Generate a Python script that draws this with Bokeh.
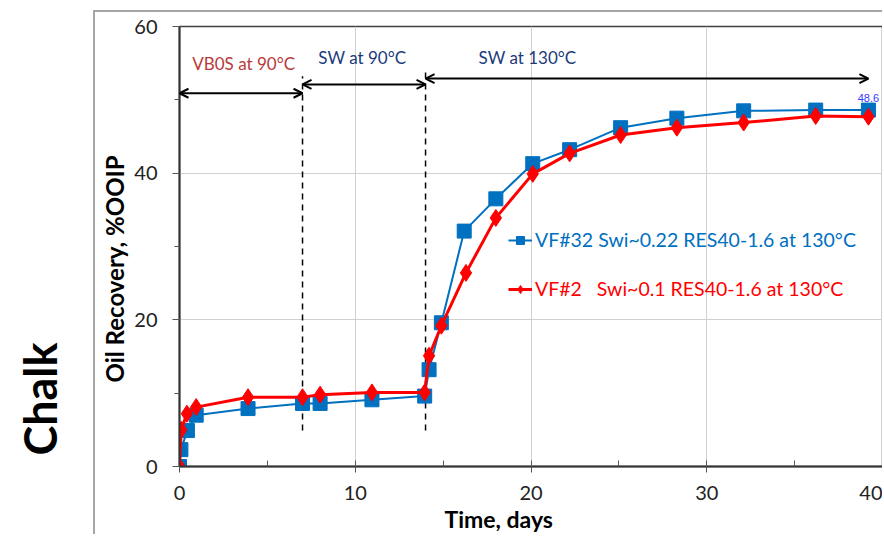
import math
from bokeh.plotting import figure
from bokeh.layouts import row
from bokeh.models import (Range1d, SingleIntervalTicker, Label, Arrow, OpenHead,
                          Legend, LegendItem, Title, Div)
from bokeh.embed import file_html
from bokeh.resources import INLINE

# ---- data ----
blue_name = "VF#32 Swi~0.22 RES40-1.6 at 130°C"
blue_t = [0, 0.08, 0.45, 0.95, 3.9, 7.0, 8.0, 10.95, 13.95, 14.2, 14.9, 16.2, 18.0,
          20.1, 22.2, 25.1, 28.3, 32.1, 36.2, 39.2]
blue_v = [0, 2.3, 4.9, 7.0, 7.9, 8.6, 8.6, 9.1, 9.6, 13.2, 19.6, 32.1, 36.5,
          41.3, 43.2, 46.2, 47.5, 48.5, 48.6, 48.6]

red_name = "VF#2   Swi~0.1 RES40-1.6 at 130°C"
red_t = [0, 0.1, 0.42, 0.95, 3.9, 7.0, 8.0, 10.95, 13.95, 14.2, 14.9, 16.3, 18.0,
         20.1, 22.2, 25.1, 28.3, 32.1, 36.2, 39.2]
red_v = [0, 5.0, 7.2, 8.1, 9.45, 9.45, 9.8, 10.1, 10.1, 15.1, 19.2, 26.4, 33.9,
         39.9, 42.7, 45.2, 46.2, 46.9, 47.8, 47.7]

phase_names = ["VB0S at 90°C", "SW at 90°C", "SW at 130°C"]
phase_start = [0, 7, 14]
phase_end = [7, 14, 39.2]
phase_arrow_y = [50.9, 52.1, 52.9]
phase_text_x = [3.65, 10.4, 19.8]
phase_text_y = [55.0, 55.8, 55.8]
phase_colors = ["#B83A3A", "#203A7A", "#203A7A"]
divider_t = [7, 14]
divider_bottom = [4.9, 4.9]
divider_top = [53.2, 54.3]

x_ticks_interval = 10
y_ticks_interval = 20
last_label = "48.6"
side_title = "Chalk"
x_title = "Time, days"
y_title = "Oil Recovery, %OOIP"

BLUE = "#0070C0"
RED = "#FF0000"
FONT = "Lato"
GRAY_BORDER = "2px solid #A6A6A6"

# ---- left strip with the rotated "Chalk" title ----
side = Div(text=('<div style="position:absolute; left:40px; top:399px; '
                 'transform:translate(-50%,-50%) rotate(-90deg); '
                 'font-family:Lato; font-weight:bold; font-size:45px; '
                 'line-height:1; color:black; white-space:nowrap;">'
                 + side_title + '</div>'),
           width=93, height=536, margin=0)

# ---- main chart ----
p = figure(width=789, height=524, output_backend="svg", toolbar_location=None,
           x_range=Range1d(0, 40), y_range=Range1d(0, 60),
           min_border_left=84, min_border_right=2, min_border_top=14,
           min_border_bottom=70)
p.margin = (10, 0, 0, 0)
p.styles = {"border-left": GRAY_BORDER, "border-top": GRAY_BORDER}
p.background_fill_color = "white"
p.border_fill_color = "white"
p.outline_line_color = "#404040"
p.outline_line_width = 1.5

p.xaxis.ticker = SingleIntervalTicker(interval=x_ticks_interval, num_minor_ticks=2)
p.yaxis.ticker = SingleIntervalTicker(interval=y_ticks_interval, num_minor_ticks=2)
for ax in (p.xaxis, p.yaxis):
    ax.axis_line_color = "#333333"
    ax.axis_line_width = 2
    ax.major_tick_line_color = "#555555"
    ax.minor_tick_line_color = "#555555"
    ax.major_label_text_font = FONT
    ax.major_label_text_font_size = "20px"
    ax.major_label_text_color = "#222222"
p.xaxis.major_tick_out = 6
p.xaxis.major_tick_in = 0
p.xaxis.minor_tick_in = 6
p.xaxis.minor_tick_out = 0
p.xaxis.major_label_standoff = 13
p.yaxis.major_tick_out = 7
p.yaxis.major_tick_in = 0
p.yaxis.minor_tick_in = 0
p.yaxis.minor_tick_out = 5
p.yaxis.major_label_standoff = 15
p.xgrid.grid_line_color = "#D0D0D0"
p.ygrid.grid_line_color = "#D0D0D0"

# axis titles (side titles, positioned along the axis with align/offset)
p.add_layout(Title(text=y_title, align="left", offset=84, standoff=5,
                   text_font=FONT, text_font_size="24px", text_font_style="bold",
                   text_color="black"), "left")
p.add_layout(Title(text=x_title, align="left", offset=265, standoff=0,
                   text_font=FONT, text_font_size="23px", text_font_style="bold",
                   text_color="black"), "below")

# phase dividers
p.segment(x0=divider_t, y0=divider_bottom, x1=divider_t, y1=divider_top,
          line_color="black", line_width=1.5, line_dash="6 5")

# phase arrows and labels
for s, e, ay, name, tx, ty, c in zip(phase_start, phase_end, phase_arrow_y,
                                      phase_names, phase_text_x, phase_text_y, phase_colors):
    p.add_layout(Arrow(x_start=s, x_end=e, y_start=ay, y_end=ay,
                       start=OpenHead(size=9, line_width=2, line_color="black"),
                       end=OpenHead(size=9, line_width=2, line_color="black"),
                       line_width=2, line_color="black"))
    p.add_layout(Label(x=tx, y=ty, text=name, text_align="center",
                       text_baseline="middle", text_font=FONT,
                       text_font_size="17px", text_color=c))

# series
bl = p.line(blue_t, blue_v, line_color=BLUE, line_width=2)
bm = p.scatter(blue_t, blue_v, marker="square", size=14, fill_color=BLUE,
               line_color=BLUE)
rl = p.line(red_t, red_v, line_color=RED, line_width=3)
rm = p.scatter(red_t, red_v, marker="diamond", size=17, fill_color=RED,
               line_color=RED)

p.add_layout(Label(x=blue_t[-1], y=blue_v[-1], text=last_label,
                   text_align="center", text_baseline="bottom", y_offset=8,
                   text_font="Liberation Sans", text_font_size="11px",
                   text_color="#3A3AFF"))

for items, vy, col in (([LegendItem(label=blue_name, renderers=[bl, bm])], 215, BLUE),
                       ([LegendItem(label=red_name, renderers=[rl, rm])], 166, RED)):
    lg = Legend(items=items, location=(329, vy), background_fill_alpha=0,
                border_line_alpha=0, padding=0, margin=0, glyph_width=24,
                glyph_height=20, label_height=20, label_standoff=3,
                label_text_font=FONT, label_text_font_size="19.5px",
                label_text_color=col)
    p.add_layout(lg)

layout = row(side, p)
open("out.html", "w").write(file_html(layout, INLINE))
